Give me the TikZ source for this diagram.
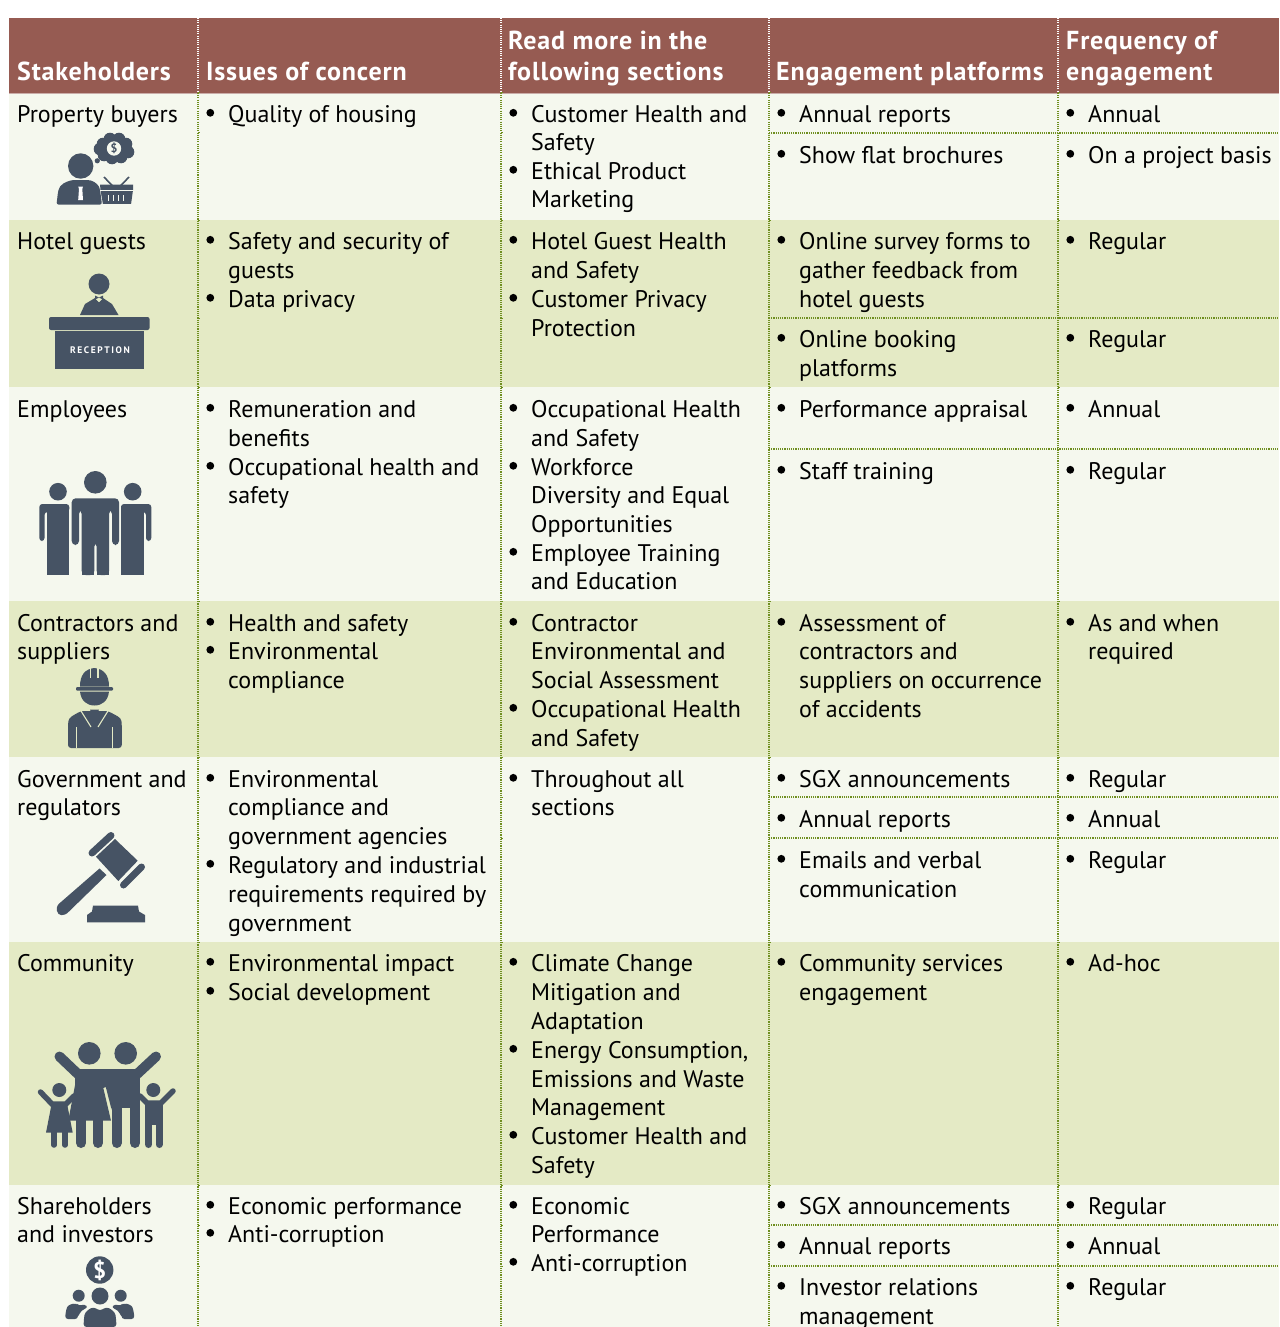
\documentclass[tikz,border=0pt]{standalone}
\usepackage{fontspec}
\setmainfont{PT Sans}
\newfontface\hdface[LetterSpace=3.2]{PT Sans Bold}
\definecolor{hdr}{HTML}{965B52}
\definecolor{lite}{HTML}{F5F8EE}
\definecolor{grn}{HTML}{E4EAC5}
\definecolor{ico}{HTML}{465364}
\definecolor{dotc}{HTML}{6F8F20}
\newcounter{tn}
\tikzset{
 txt/.style={anchor=base west,inner sep=0pt,font=\fontsize{24}{28}\selectfont,text=black},
 head/.style={anchor=base west,inner sep=0pt,font=\hdface\fontsize{26}{28}\selectfont,text=white},
 rulel/.style={dotc,line width=1.1pt,dash pattern=on 1.1pt off 1.1pt},
 hrulel/.style={white,line width=1.1pt,dash pattern=on 1.1pt off 1.1pt},
}
\newcommand{\hd}[3]{\stepcounter{tn}\node[head] (t\arabic{tn}) at (#1,#2) {#3};}
\newcommand{\lin}[3]{\stepcounter{tn}\node[txt] (t\arabic{tn}) at (#1,#2-0.7) {#3};}
\newcommand{\bt}[3]{\fill (#1-17.7,#2-10.2) circle (3.9);\lin{#1}{#2}{#3}}
\begin{document}
\begin{tikzpicture}[x=1pt,y=-1pt]
\useasboundingbox (0,0) rectangle (1279,1327);
\fill[white] (0,0) rectangle (1279,1327);
% bands
\fill[hdr] (9,18) rectangle (1279,93);
\fill[lite] (9,93) rectangle (1279,220);
\fill[grn] (9,220) rectangle (1279,387);
\fill[lite] (9,387) rectangle (1279,601);
\fill[grn] (9,601) rectangle (1279,757);
\fill[lite] (9,757) rectangle (1279,942);
\fill[grn] (9,942) rectangle (1279,1185);
\fill[lite] (9,1185) rectangle (1279,1327);
\draw[hdr!50!white,line width=.8pt] (9,93) -- (1279,93);
% rules
\foreach \x in {198,501,769,1058}{
 \draw[hrulel] (\x,18) -- (\x,93);
 \draw[rulel] (\x,93) -- (\x,1327);
 \foreach \y in {93,220,387,601,757,942,1185}{\draw[dotc,line width=1pt] (\x,\y) -- (\x+2,\y);}
}
\foreach \x in {198,501}{\foreach \y in {133,318,449,797,838,1225,1266}{\draw[dotc,line width=1pt] (\x,\y) -- (\x+2,\y);}}
\foreach \y in {133,318,449,797,838,1225,1266}{\draw[rulel] (769,\y) -- (1279,\y);}
% header
\hd{17}{81}{Stakeholders}
\hd{206}{81}{Issues of concern}
\hd{508}{50}{Read more in the}
\hd{508}{81}{following sections}
\hd{776}{81}{Engagement platforms}
\hd{1066}{50}{Frequency of}
\hd{1066}{81}{engagement}
% col 1
\lin{17}{123}{Property buyers}
\lin{17}{250}{Hotel guests}
\lin{17}{418}{Employees}
\lin{17}{632}{Contractors and}
\lin{17}{660}{suppliers}
\lin{17}{788}{Government and}
\lin{17}{816}{regulators}
\lin{17}{972}{Community}
\lin{17}{1215}{Shareholders}
\lin{17}{1243}{and investors}
% col 2
\bt{228}{123}{Quality of housing}
\bt{228}{250}{Safety and security of}
\lin{228}{279}{guests}
\bt{228}{308}{Data privacy}
\bt{228}{418}{Remuneration and}
\lin{228}{447}{benefits}
\bt{228}{476}{Occupational health and}
\lin{228}{504}{safety}
\bt{228}{632}{Health and safety}
\bt{228}{660}{Environmental}
\lin{228}{689}{compliance}
\bt{228}{788}{Environmental}
\lin{228}{816}{compliance and}
\lin{228}{845}{government agencies}
\bt{228}{874}{Regulatory and industrial}
\lin{228}{903}{requirements required by}
\lin{228}{932}{government}
\bt{228}{972}{Environmental impact}
\bt{228}{1001}{Social development}
\bt{228}{1215}{Economic performance}
\bt{228}{1243}{Anti-corruption}
% col 3
\bt{531}{123}{Customer Health and}
\lin{531}{151}{Safety}
\bt{531}{180}{Ethical Product}
\lin{531}{208}{Marketing}
\bt{531}{250}{Hotel Guest Health}
\lin{531}{279}{and Safety}
\bt{531}{308}{Customer Privacy}
\lin{531}{337}{Protection}
\bt{531}{418}{Occupational Health}
\lin{531}{447}{and Safety}
\bt{531}{476}{Workforce}
\lin{531}{504}{Diversity and Equal}
\lin{531}{533}{Opportunities}
\bt{531}{562}{Employee Training}
\lin{531}{590}{and Education}
\bt{531}{632}{Contractor}
\lin{531}{660}{Environmental and}
\lin{531}{689}{Social Assessment}
\bt{531}{718}{Occupational Health}
\lin{531}{747}{and Safety}
\bt{531}{788}{Throughout all}
\lin{531}{816}{sections}
\bt{531}{972}{Climate Change}
\lin{531}{1001}{Mitigation and}
\lin{531}{1030}{Adaptation}
\bt{531}{1059}{Energy Consumption,}
\lin{531}{1088}{Emissions and Waste}
\lin{531}{1116}{Management}
\bt{531}{1145}{Customer Health and}
\lin{531}{1174}{Safety}
\bt{531}{1215}{Economic}
\lin{531}{1243}{Performance}
\bt{531}{1272}{Anti-corruption}
% col 4
\bt{799}{123}{Annual reports}
\bt{799}{164}{Show flat brochures}
\bt{799}{250}{Online survey forms to}
\lin{799}{279}{gather feedback from}
\lin{799}{308}{hotel guests}
\bt{799}{348}{Online booking}
\lin{799}{377}{platforms}
\bt{799}{418}{Performance appraisal}
\bt{799}{480}{Staff training}
\bt{799}{632}{Assessment of}
\lin{799}{660}{contractors and}
\lin{799}{689}{suppliers on occurrence}
\lin{799}{718}{of accidents}
\bt{799}{788}{SGX announcements}
\bt{799}{828}{Annual reports}
\bt{799}{869}{Emails and verbal}
\lin{799}{898}{communication}
\bt{799}{972}{Community services}
\lin{799}{1001}{engagement}
\bt{799}{1215}{SGX announcements}
\bt{799}{1255}{Annual reports}
\bt{799}{1296}{Investor relations}
\lin{799}{1325}{management}
% col 5
\bt{1088}{123}{Annual}
\bt{1088}{164}{On a project basis}
\bt{1088}{250}{Regular}
\bt{1088}{348}{Regular}
\bt{1088}{418}{Annual}
\bt{1088}{480}{Regular}
\bt{1088}{632}{As and when}
\lin{1088}{660}{required}
\bt{1088}{788}{Regular}
\bt{1088}{828}{Annual}
\bt{1088}{869}{Regular}
\bt{1088}{972}{Ad-hoc}
\bt{1088}{1215}{Regular}
\bt{1088}{1255}{Annual}
\bt{1088}{1296}{Regular}
% icon 1 buyer
\fill[ico] (80.7,166) circle (12.7);
\fill[ico,rounded corners=2pt] (56.5,204.5) -- (58,192) .. controls (60,184) and (66,182) .. (72,180) -- (89,180) .. controls (96,182) and (99,186) .. (100,190) -- (102,204.5) -- cycle;
\fill[white] (78.2,186.5) -- (83,186.5) -- (82.3,189) -- (83,200) -- (78.2,200) -- (79,189) -- cycle;
\foreach \a/\b in {103/144,110/139,119/139,126/144,128/152,121/157,112/158,104/155,100/149}{\fill[ico] (\a,\b) circle (6.3);}
\fill[ico] (114,148) circle (9);
\fill[lite] (114,148.5) circle (7.2);
\node[inner sep=0pt,text=ico,font=\bfseries\fontsize{12}{12}\selectfont] (d1) at (114,148.5) {\$};
\fill[ico] (97.3,160.8) circle (2.6);
\draw[ico,line width=1.6pt] (104,177) -- (115,188.5) (129,177) -- (118,188.5);
\fill[ico] (100,184.5) -- (133,184.5) -- (133,190) -- (131,204.5) -- (103,204.5) -- (100.5,190) -- cycle;
\draw[lite,line width=1.3pt] (100,190.5) -- (133,190.5);
\foreach \x in {108.5,113.5,118.5,123.5}{\draw[lite,line width=1.4pt] (\x,195) -- (\x,201);}
\draw[lite,line width=1pt] (101,204.5) -- (133,204.5);
% icon 2 reception
\fill[ico] (99,284) circle (10.5);
\fill[ico] (80,315) -- (85,304) -- (95,298) -- (99,302) -- (103,298) -- (112,304) -- (118.5,315) -- cycle;
\fill[grn] (95.5,296) -- (99,298) -- (102.5,296) -- (102.5,298.5) -- (99,302) -- (95.5,298.5) -- cycle;
\fill[ico] (95,295.5) -- (99,297.5) -- (103,295.5) -- (103,299.5) -- (99,297.5) -- (95,299.5) -- cycle;
\fill[ico,rounded corners=2pt] (49,317) rectangle (149.5,330);
\fill[ico] (55,331) rectangle (144,368.5);
\node[inner sep=0pt,text=white,font=\bfseries\fontsize{9.5}{9.5}\selectfont] (rec) at (100,350) {R\,E\,C\,E\,P\,T\,I\,O\,N};
% icon 3 employees
\fill[ico] (95.3,482.3) circle (11.3);
\fill[ico] (58,491.7) circle (8.8);
\fill[ico] (132.7,491.7) circle (8.8);
\fill[ico,rounded corners=4pt] (71.7,545) -- (71.7,498.3) -- (119,498.3) -- (119,545) -- (112,545) -- (112,510) -- (109,510) -- (109,575) -- (96.7,575) -- (96.7,542.7) -- (94.3,542.7) -- (94.3,575) -- (81.7,575) -- (81.7,510) -- (79,510) -- (79,545) -- cycle;
\fill[ico] (79,504) rectangle (81.7,511);
\fill[ico] (109,504) rectangle (112,511);
\fill[ico] (81.7,525) rectangle (94.3,575);
\fill[ico] (96.7,525) rectangle (109,575);
\fill[ico] (46.7,506) rectangle (69.3,575);
\fill[ico,rounded corners=3pt] (39.3,541) -- (39.3,504) -- (69.3,504) -- (69.3,512) -- (44.5,512) -- (44.5,541) -- cycle;
\fill[ico] (121,506) rectangle (144,575);
\fill[ico,rounded corners=3pt] (151.3,541) -- (151.3,504) -- (121,504) -- (121,512) -- (146,512) -- (146,541) -- cycle;
% icon 4 contractor
\fill[ico] (80,686.5) .. controls (80,675) and (85,669) .. (94.3,668) .. controls (104,669) and (109,675) .. (109,686.5) -- cycle;
\draw[grn,line width=1.1pt] (90.5,667) -- (90.5,678) (98,667) -- (98,678);
\fill[ico,rounded corners=1pt] (76,687) rectangle (113,690.5);
\fill[ico] (80,691.5) .. controls (81,701) and (87,705.5) .. (94.5,705.5) .. controls (102,705.5) and (108,701) .. (109,691.5) -- cycle;
\fill[ico,rounded corners=3pt] (68,748) -- (68,724) .. controls (69,717) and (74,715) .. (81,711) -- (108,711) .. controls (115,715) and (121,717) .. (121.8,724) -- (121.8,748) -- cycle;
\fill[grn] (82,709.5) rectangle (107,711.2);
\fill[ico] (90,709.5) -- (99,709.5) -- (97,715) -- (99,725) -- (94.5,730) -- (90,725) -- (92,715) -- cycle;
\draw[grn,line width=1.1pt] (81,711) -- (91,727) (108,711) -- (98,727);
\draw[grn,line width=1.1pt] (76.7,727) -- (76.7,748) (112.3,727) -- (112.3,748);
% icon 5 gavel
\fill[ico] (115,839) -- (137.7,860.7) -- (118.3,881) -- (96,856.7) -- cycle;
\draw[ico,line width=7pt,line cap=round] (92,853) -- (111,835.5);
\draw[ico,line width=7pt,line cap=round] (123.5,885) -- (141.5,867);
\fill[ico] (99.5,868.5) -- (106.5,875) -- (69,911.5) .. controls (64,917) and (58,916) .. (57,911) .. controls (56,907) and (58,904) .. (61,902) -- cycle;
\fill[ico] (93,905.7) -- (138,905.7) -- (139,911.5) -- (145,915) -- (145,922.3) -- (87,922.3) -- (87,915) -- (92,911.5) -- cycle;
% icon 6 family
\fill[ico] (89.3,1053.3) circle (11.3);
\fill[ico] (125.7,1053.3) circle (11.3);
\fill[ico] (59.3,1090) circle (7);
\fill[ico] (153.3,1090) circle (7);
\draw[ico,line width=10pt,line cap=round] (59.5,1056.5) -- (80,1076);
\draw[ico,line width=10pt,line cap=round] (156,1056.5) -- (135,1076);
\fill[ico] (75,1069) rectangle (140,1085);
\fill[ico] (76,1080) -- (68.3,1120.7) -- (111,1120.7) -- (103.3,1088) -- (111,1085) -- cycle;
\fill[ico] (111,1069) rectangle (140,1108);
\fill[ico] (104,1080) -- (111.7,1110) -- (111.7,1085) -- cycle;
\draw[ico,line width=10pt,line cap=round] (81,1115) -- (81,1143);
\draw[ico,line width=10pt,line cap=round] (98,1115) -- (98,1143);
\draw[ico,line width=10pt,line cap=round] (116.7,1100) -- (116.7,1143);
\draw[ico,line width=10pt,line cap=round] (135,1100) -- (135,1143);
\draw[ico,line width=5.5pt,line cap=round] (40.5,1092) -- (52,1104) -- (66,1104) -- (74,1096);
\fill[ico] (52,1102) -- (66.7,1102) -- (72.7,1132.7) -- (46,1132.7) -- cycle;
\draw[ico,line width=5.5pt,line cap=round] (54,1130) -- (54,1145);
\draw[ico,line width=5.5pt,line cap=round] (65,1130) -- (65,1145);
\draw[ico,line width=5.5pt,line cap=round] (173,1091) -- (161,1103) -- (147,1103) -- (140,1096);
\fill[ico] (145,1101) rectangle (162.7,1125);
\draw[ico,line width=7pt,line cap=round] (148.5,1120) -- (148.5,1144.5);
\draw[ico,line width=7pt,line cap=round] (159.2,1120) -- (159.2,1144.5);
% icon 7 investors
\fill[ico] (99.7,1270) circle (13.7);
\node[inner sep=0pt,text=white,font=\bfseries\fontsize{23}{23}\selectfont] (d2) at (99.7,1270) {\$};
\fill[ico] (100,1296) circle (8.5);
\fill[ico] (78.7,1295.7) circle (6);
\fill[ico] (120.7,1295.7) circle (6);
\fill[ico,rounded corners=3pt] (65,1319) -- (66,1310) .. controls (68,1305) and (72,1304) .. (76,1303) -- (79,1306) -- (85,1304) -- (88,1308) .. controls (80,1310) and (78,1318) .. (78,1319) -- cycle;
\fill[ico,rounded corners=3pt] (134.5,1319) -- (133.5,1310) .. controls (131.5,1305) and (127.5,1304) .. (123.5,1303) -- (120.5,1306) -- (114.5,1304) -- (111.5,1308) .. controls (119.5,1310) and (121.5,1318) .. (121.5,1319) -- cycle;
\fill[ico,rounded corners=3pt] (83.5,1327) -- (84,1318) .. controls (85,1312) and (89,1309) .. (94,1307) -- (100,1311) -- (106,1307) .. controls (111,1309) and (115,1312) .. (116,1318) -- (116.5,1327) -- cycle;
\end{tikzpicture}
\end{document}
